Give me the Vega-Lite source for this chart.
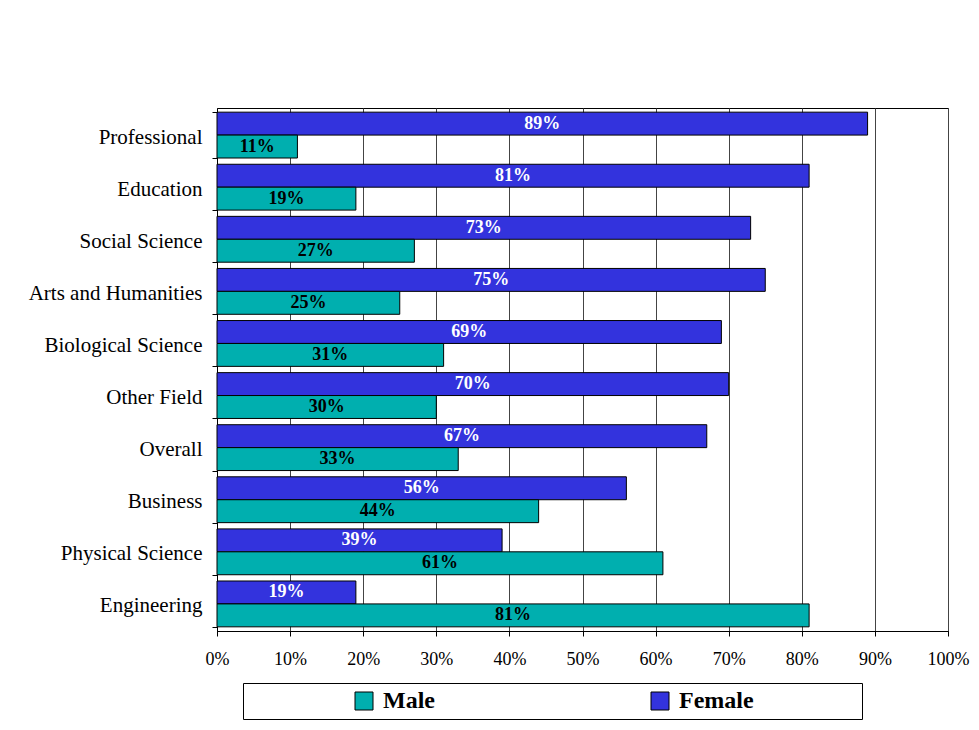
{
  "$schema": "https://vega.github.io/schema/vega-lite/v6.json",
  "width": 731,
  "height": 523,
  "autosize": "none",
  "padding": {"left": 217, "top": 108, "right": 31, "bottom": 99},
  "background": "white",
  "config": {
    "font": "Liberation Serif",
    "view": {"stroke": "black", "strokeWidth": 1}
  },
  "data": {
    "values": [
      {"field": "Professional", "gender": "Female", "pct": 89},
      {"field": "Professional", "gender": "Male", "pct": 11},
      {"field": "Education", "gender": "Female", "pct": 81},
      {"field": "Education", "gender": "Male", "pct": 19},
      {"field": "Social Science", "gender": "Female", "pct": 73},
      {"field": "Social Science", "gender": "Male", "pct": 27},
      {"field": "Arts and Humanities", "gender": "Female", "pct": 75},
      {"field": "Arts and Humanities", "gender": "Male", "pct": 25},
      {"field": "Biological Science", "gender": "Female", "pct": 69},
      {"field": "Biological Science", "gender": "Male", "pct": 31},
      {"field": "Other Field", "gender": "Female", "pct": 70},
      {"field": "Other Field", "gender": "Male", "pct": 30},
      {"field": "Overall", "gender": "Female", "pct": 67},
      {"field": "Overall", "gender": "Male", "pct": 33},
      {"field": "Business", "gender": "Female", "pct": 56},
      {"field": "Business", "gender": "Male", "pct": 44},
      {"field": "Physical Science", "gender": "Female", "pct": 39},
      {"field": "Physical Science", "gender": "Male", "pct": 61},
      {"field": "Engineering", "gender": "Female", "pct": 19},
      {"field": "Engineering", "gender": "Male", "pct": 81}
    ]
  },
  "encoding": {
    "y": {
      "field": "field",
      "type": "nominal",
      "sort": null,
      "scale": {"paddingInner": 0.12, "paddingOuter": 0.08},
      "axis": {
        "title": null,
        "tickBand": "extent",
        "labelFontSize": 21,
        "labelColor": "black",
        "labelPadding": 10,
        "labelOffset": 2,
        "tickSize": 5,
        "tickColor": "black",
        "domainColor": "black",
        "grid": false
      }
    },
    "yOffset": {
      "field": "gender",
      "type": "nominal",
      "sort": ["Female", "Male"],
      "scale": {"paddingInner": 0, "paddingOuter": 0}
    }
  },
  "layer": [
    {
      "mark": {"type": "bar", "stroke": "black", "strokeWidth": 1},
      "encoding": {
        "x": {
          "field": "pct",
          "type": "quantitative",
          "scale": {"domain": [0, 100], "nice": false},
          "axis": {
            "title": null,
            "values": [0, 10, 20, 30, 40, 50, 60, 70, 80, 90, 100],
            "labelExpr": "datum.value + '%'",
            "labelFlush": false,
            "labelFontSize": 18,
            "labelColor": "black",
            "labelPadding": 14,
            "tickSize": 5,
            "tickColor": "black",
            "domainColor": "black",
            "grid": true,
            "gridColor": "#444444",
            "gridOpacity": 1
          }
        },
        "color": {
          "field": "gender",
          "type": "nominal",
          "scale": {"domain": ["Male", "Female"], "range": ["#00AFAF", "#3333DD"]},
          "legend": {
            "orient": "none",
            "legendX": 26,
            "legendY": 575,
            "direction": "horizontal",
            "columns": 2,
            "title": "\u200b\u00a0\u00a0\u00a0\u00a0\u00a0\u00a0\u00a0\u00a0\u00a0\u00a0\u00a0\u00a0\u00a0\u00a0\u00a0\u00a0\u00a0\u00a0\u00a0\u00a0\u200b",
            "titleOrient": "left",
            "titleFontSize": 20,
            "titlePadding": 3,
            "padding": 6,
            "strokeColor": "black",
            "fillColor": "white",
            "symbolType": "square",
            "symbolSize": 324,
            "symbolStrokeColor": "black",
            "symbolStrokeWidth": 1,
            "symbolOpacity": 1,
            "labelFont": "Liberation Serif",
            "labelFontSize": 24,
            "labelFontWeight": "bold",
            "labelColor": "black",
            "labelOffset": 7,
            "labelLimit": 600,
            "columnPadding": 213,
            "labelExpr": "datum.label == 'Female' ? 'Female\u00a0\u00a0\u00a0\u00a0\u00a0\u00a0\u00a0\u00a0\u00a0\u00a0\u00a0\u00a0\u00a0\u00a0\u00a0\u00a0\u00a0\u200b' : datum.label"
          }
        }
      }
    },
    {
      "transform": [
        {"calculate": "datum.pct / 2", "as": "mid"},
        {"calculate": "datum.pct + '%'", "as": "label"}
      ],
      "mark": {"type": "text", "fontSize": 18, "fontWeight": "bold", "align": "center", "baseline": "middle"},
      "encoding": {
        "x": {"field": "mid", "type": "quantitative"},
        "text": {"field": "label", "type": "nominal"},
        "fill": {
          "condition": {"test": "datum.gender == 'Female'", "value": "white"},
          "value": "black"
        }
      }
    }
  ]
}
